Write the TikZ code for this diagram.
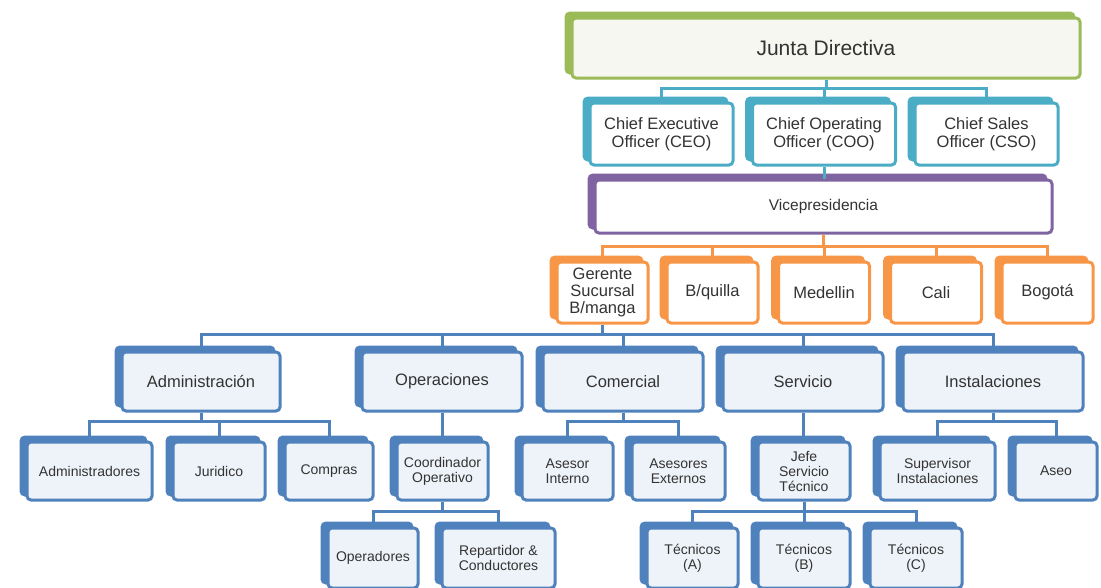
\documentclass[tikz,border=0pt]{standalone}
\usepackage{fontspec}
\setmainfont{Liberation Sans}
\usetikzlibrary{shadows}

\definecolor{verdejunta}{HTML}{9BBB59}
\definecolor{fondojunta}{HTML}{F5F7F0}
\definecolor{cianjefes}{HTML}{4BACC6}
\definecolor{moradovice}{HTML}{8064A2}
\definecolor{naranjasede}{HTML}{F79646}
\definecolor{azularea}{HTML}{4F81BD}
\definecolor{fondoarea}{HTML}{EEF3F9}
\definecolor{textogris}{HTML}{333333}

\tikzset{
  caja/.style={draw=#1, rounded corners=4pt, line width=3pt, align=center, inner sep=1pt,
    text=textogris, fill=white,
    copy shadow={shadow xshift=-6pt, shadow yshift=5pt, fill=#1, draw=#1, line width=3pt}},
  junta/.style={caja=verdejunta, fill=fondojunta, minimum width=508pt, minimum height=60pt,
    font=\fontsize{21}{24}\selectfont},
  jefe/.style={caja=cianjefes, minimum width=143pt, minimum height=62pt,
    font=\fontsize{16.5}{18}\selectfont},
  vice/.style={caja=moradovice, minimum width=457pt, minimum height=53pt,
    font=\fontsize{15.5}{18}\selectfont},
  sede/.style={caja=naranjasede, minimum width=91pt, minimum height=61pt,
    font=\fontsize{16.5}{17}\selectfont},
  area/.style={caja=azularea, fill=fondoarea, minimum width=160pt, minimum height=59pt,
    font=\fontsize{16.5}{18}\selectfont},
  cargo/.style={caja=azularea, fill=fondoarea, minimum height=58pt,
    font=\fontsize{14}{15}\selectfont},
  linea/.style={draw=#1, line width=3pt}
}

\begin{document}
\begin{tikzpicture}[x=1pt, y=-1pt]
\useasboundingbox (0,0) rectangle (1101,587);

% nivel directivo
\node[junta] (jd) at (826,48) {Junta Directiva};
\node[jefe] (ceo) at (661.5,134) {Chief Executive\\Officer (CEO)};
\node[jefe] (coo) at (824,134) {Chief Operating\\Officer (COO)};
\node[jefe] (cso) at (986.5,134) {Chief Sales\\Officer (CSO)};
\node[vice] (vp) at (823.5,206.5) {Vicepresidencia};

% sucursales
\node[sede] (ger) at (602.5,292.5) {Gerente\\Sucursal\\B/manga};
\node[sede] (bqu) at (712.5,292.5) {B/quilla};
\node[sede] (med) at (824,292.5) {Medellin};
\node[sede] (cali) at (936,292.5) {Cali};
\node[sede] (bog) at (1047.5,292.5) {Bogotá};

% areas
\node[area, minimum width=158pt] (adm) at (201,381.5) {Administración};
\node[area] (ope) at (442,381.5) {Operaciones};
\node[area] (com) at (623,381.5) {Comercial};
\node[area] (ser) at (803,381.5) {Servicio};
\node[area, minimum width=180pt] (ins) at (993,381.5) {Instalaciones};

% cargos
\node[cargo, minimum width=125pt] (admr) at (89.5,471) {Administradores};
\node[cargo, minimum width=92pt] (jur) at (219,471) {Juridico};
\node[cargo, minimum width=88pt] (comp) at (329,471) {Compras};
\node[cargo, minimum width=91pt] (coord) at (442.5,471) {Coordinador\\Operativo};
\node[cargo, minimum width=91pt] (asi) at (567.5,471) {Asesor\\Interno};
\node[cargo, minimum width=93pt] (ase) at (678.5,471) {Asesores\\Externos};
\node[cargo, minimum width=92pt] (jst) at (804,471) {Jefe\\Servicio\\Técnico};
\node[cargo, minimum width=115pt] (sup) at (937.5,471) {Supervisor\\Instalaciones};
\node[cargo, minimum width=82pt] (aseo) at (1056,471) {Aseo};

\node[cargo, minimum width=90pt, minimum height=60pt] (oper) at (373,558) {Operadores};
\node[cargo, minimum width=113pt, minimum height=60pt] (rep) at (498.5,558) {Repartidor \&\\Conductores};
\node[cargo, minimum width=91pt, minimum height=60pt] (tca) at (692.5,558) {Técnicos\\(A)};
\node[cargo, minimum width=92pt, minimum height=60pt] (tcb) at (804,558) {Técnicos\\(B)};
\node[cargo, minimum width=92pt, minimum height=60pt] (tcc) at (916,558) {Técnicos\\(C)};

% conectores
\coordinate (bjd) at (jd.south |- 0,88);
\draw[linea=cianjefes] (jd.south) -- (bjd);
\foreach \n in {ceo,coo,cso}
  \draw[linea=cianjefes] (bjd) -| (\n.north);
\draw[linea=cianjefes] (coo.south) -- (coo.south |- vp.north);

\coordinate (bvp) at (vp.south |- 0,246);
\draw[linea=naranjasede] (vp.south) -- (bvp);
\foreach \n in {ger,bqu,med,cali,bog}
  \draw[linea=naranjasede] (bvp) -| (\n.north);

\coordinate (bger) at (ger.south |- 0,334);
\draw[linea=azularea] (ger.south) -- (bger);
\foreach \n in {adm,ope,com,ser,ins}
  \draw[linea=azularea] (bger) -| (\n.north);

\coordinate (badm) at (adm.south |- 0,421);
\draw[linea=azularea] (adm.south) -- (badm);
\foreach \n in {admr,jur,comp}
  \draw[linea=azularea] (badm) -| (\n.north);
\draw[linea=azularea] (ope.south) -- (ope.south |- coord.north);

\coordinate (bcom) at (com.south |- 0,421);
\draw[linea=azularea] (com.south) -- (bcom);
\foreach \n in {asi,ase}
  \draw[linea=azularea] (bcom) -| (\n.north);
\draw[linea=azularea] (ser.south) -- (ser.south |- jst.north);

\coordinate (bins) at (ins.south |- 0,421);
\draw[linea=azularea] (ins.south) -- (bins);
\foreach \n in {sup,aseo}
  \draw[linea=azularea] (bins) -| (\n.north);

\coordinate (bcoord) at (coord.south |- 0,511);
\draw[linea=azularea] (coord.south) -- (bcoord);
\foreach \n in {oper,rep}
  \draw[linea=azularea] (bcoord) -| (\n.north);

\coordinate (bjst) at (jst.south |- 0,511);
\draw[linea=azularea] (jst.south) -- (bjst);
\foreach \n in {tca,tcb,tcc}
  \draw[linea=azularea] (bjst) -| (\n.north);
\end{tikzpicture}
\end{document}
